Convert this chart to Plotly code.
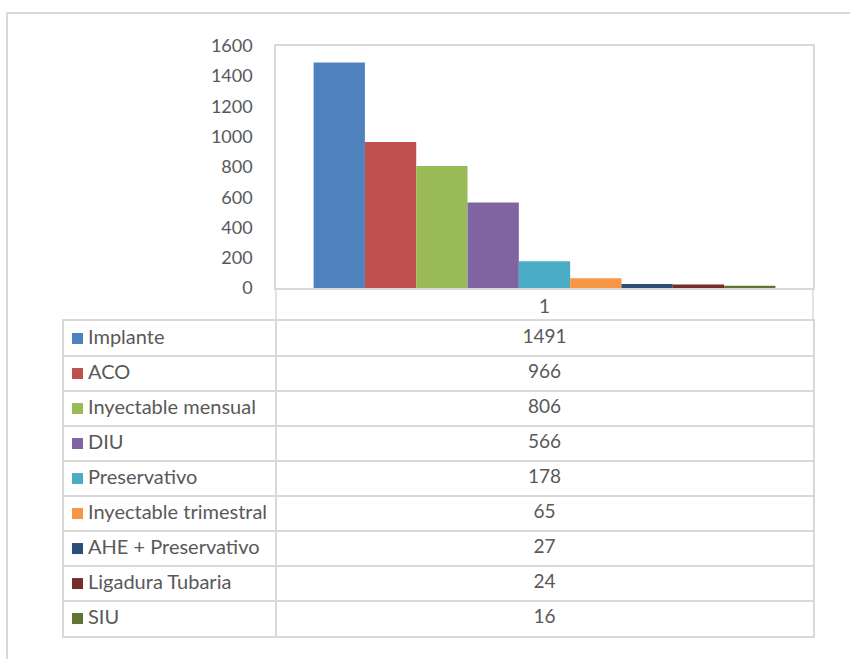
import plotly.graph_objects as go

# ---------------- data ----------------
categories = ["1"]
series_names = [
    "Implante", "ACO", "Inyectable mensual", "DIU", "Preservativo",
    "Inyectable trimestral", "AHE + Preservativo", "Ligadura Tubaria", "SIU",
]
series_values = [1491, 966, 806, 566, 178, 65, 27, 24, 16]
series_colors = [
    "#4F81BD", "#C0504D", "#9BBB59", "#8064A2", "#4BACC6",
    "#F79646", "#2C4D75", "#772C2A", "#5F7530",
]
y_tick_values = [0, 200, 400, 600, 800, 1000, 1200, 1400, 1600]

# ---------------- layout helpers ----------------
W, H = 850, 659
FONT = "Lato"
TXT = "#595959"
GRID = "#D9D9D9"


def px(x):
    return x / W


def ly(y):
    # reference pixel row -> layout pixel row (compensates the capture squeeze)
    return (y - 10) * H / 639.0


def py(y):
    return 1 - ly(y) / H


PLOT_L, PLOT_R, PLOT_T, PLOT_B = 276, 813, 44, 287
TAB_L, TAB_T, TAB_B = 64, 320, 636
n = len(series_names)
tab_w = PLOT_R - TAB_L
split = PLOT_L - TAB_L

fig = go.Figure()

for name, val, col in zip(series_names, series_values, series_colors):
    fig.add_trace(go.Bar(
        x=categories, y=[val], name=name,
        marker=dict(color=col, line=dict(width=0)),
        xaxis="x", yaxis="y", showlegend=False,
    ))

rows = [i + 0.5 for i in range(n)]
# legend keys in the data table
fig.add_trace(go.Scatter(
    x=[13.5] * n, y=rows, mode="markers",
    marker=dict(symbol="square", size=11, color=series_colors, line=dict(width=0)),
    xaxis="x2", yaxis="y2", showlegend=False, hoverinfo="skip",
))
# series names
fig.add_trace(go.Scatter(
    x=[24] * n, y=rows, mode="text", text=series_names,
    textposition="middle right",
    textfont=dict(family=FONT, size=20, color=TXT),
    xaxis="x2", yaxis="y2", showlegend=False, hoverinfo="skip",
))
# values
fig.add_trace(go.Scatter(
    x=[split + (tab_w - split) / 2] * n, y=rows, mode="text",
    text=[str(v) for v in series_values],
    textposition="middle center",
    textfont=dict(family=FONT, size=19, color=TXT),
    xaxis="x2", yaxis="y2", showlegend=False, hoverinfo="skip",
))

fig.update_layout(
    width=W, height=H,
    margin=dict(l=0, r=0, t=0, b=0),
    paper_bgcolor="white", plot_bgcolor="white",
    barmode="group", bargap=0.14, bargroupgap=0,
    font=dict(family=FONT, color=TXT),
    xaxis=dict(
        domain=[px(PLOT_L), px(PLOT_R)], anchor="y",
        showline=True, mirror=True, linecolor=GRID, linewidth=1.5,
        showgrid=False, ticks="", ticklabelstandoff=0,
        tickfont=dict(family=FONT, size=19, color=TXT),
        fixedrange=True,
    ),
    yaxis=dict(
        domain=[py(PLOT_B), py(PLOT_T)], anchor="x",
        range=[0, 1600], tickvals=y_tick_values,
        showline=True, mirror=True, linecolor=GRID, linewidth=1.5,
        showgrid=False, zeroline=False, ticks="", ticklabelstandoff=18,
        tickfont=dict(family=FONT, size=18, color=TXT),
        fixedrange=True,
    ),
    xaxis2=dict(
        domain=[px(TAB_L), px(PLOT_R)], anchor="y2",
        range=[0, tab_w], tickvals=[split], showticklabels=False,
        showgrid=True, gridcolor=GRID, gridwidth=1.5, zeroline=False,
        showline=True, mirror=True, linecolor=GRID, linewidth=1.5,
        fixedrange=True,
    ),
    yaxis2=dict(
        domain=[py(TAB_B), py(TAB_T)], anchor="x2",
        range=[n, 0], tickvals=list(range(1, n)), showticklabels=False,
        showgrid=True, gridcolor=GRID, gridwidth=1.5, zeroline=False,
        showline=True, mirror=True, linecolor=GRID, linewidth=1.5,
        fixedrange=True,
    ),
    shapes=[
        # category row vertical borders
        dict(type="line", xref="paper", yref="paper",
             x0=px(PLOT_L), x1=px(PLOT_L), y0=py(PLOT_B), y1=py(TAB_T),
             line=dict(color=GRID, width=1.5)),
        dict(type="line", xref="paper", yref="paper",
             x0=px(PLOT_R), x1=px(PLOT_R), y0=py(PLOT_B), y1=py(TAB_T),
             line=dict(color=GRID, width=1.5)),
        # outer chart frame
        dict(type="rect", xref="paper", yref="paper",
             x0=px(7), x1=px(870), y0=py(700), y1=py(11),
             line=dict(color=GRID, width=2), layer="below"),
    ],
)

fig.write_html(
    "out.html",
    config={"displayModeBar": False},
    post_script=(
        "document.documentElement.style.margin='0px';"
        "document.body.style.margin='0px';"
        "document.body.style.overflow='hidden';"
        "var gd=document.getElementById('{plot_id}');"
        "gd.style.position='fixed';gd.style.top='0px';gd.style.left='0px';"
    ),
)
